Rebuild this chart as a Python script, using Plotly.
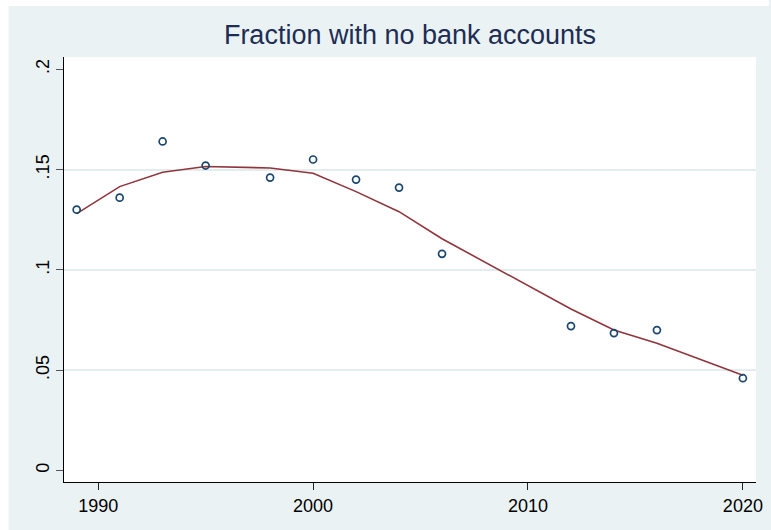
import plotly.graph_objects as go

# Survey years, observed share of households without a bank account,
# and the smoothed (lowess) trend through them
years = [1989, 1991, 1993, 1995, 1998, 2000, 2002, 2004, 2006, 2012, 2014, 2016, 2020]
share_unbanked = [0.130, 0.136, 0.164, 0.152, 0.146, 0.155, 0.145, 0.141, 0.108,
                  0.072, 0.0685, 0.070, 0.046]
lowess_fit = [0.128, 0.1415, 0.1487, 0.1515, 0.1508, 0.1482, 0.139, 0.129, 0.1155,
              0.0805, 0.070, 0.0634, 0.0475]

x_ticks = [1990, 2000, 2010, 2020]
y_ticks = [0, 0.05, 0.1, 0.15, 0.2]
y_tick_text = ["0", ".05", ".1", ".15", ".2"]
grid_levels = [0.05, 0.1, 0.15]

W, H = 771, 530
ML, MR, MT, MB = 64, 8, 57, 48
BG = "#EAF2F3"
NAVY = "#1A476F"
MAROON = "#90353B"

pw, ph = W - ML - MR, H - MT - MB


def px_x(p):
    return (p - ML) / pw


def px_y(p):
    return (H - MB - p) / ph


x_range = [1988.41, 2020.61]
y_range = [-0.00573, 0.2061]

fig = go.Figure()
# empty trace so the grid-only overlay axis gets its own subplot
fig.add_trace(go.Scatter(x=[], y=[], yaxis="y2", showlegend=False, hoverinfo="skip"))
fig.add_trace(go.Scatter(
    x=years, y=lowess_fit, mode="lines",
    line=dict(color=MAROON, width=1.6),
    hoverinfo="skip", showlegend=False,
))
fig.add_trace(go.Scatter(
    x=years, y=share_unbanked, mode="markers",
    marker=dict(symbol="circle-open", size=7, color=NAVY, line=dict(width=1.7, color=NAVY)),
    showlegend=False,
))

# thin white frame on the left and top of the graph region
shapes = [
    dict(type="rect", xref="paper", yref="paper", layer="below",
         x0=px_x(-5), x1=px_x(8), y0=px_y(H + 5), y1=px_y(-5),
         fillcolor="white", line=dict(width=0)),
    dict(type="rect", xref="paper", yref="paper", layer="below",
         x0=px_x(-5), x1=px_x(W + 5), y0=px_y(6), y1=px_y(-5),
         fillcolor="white", line=dict(width=0)),
]

fig.update_layout(
    width=W, height=H,
    margin=dict(l=ML, r=MR, t=MT, b=MB, pad=0),
    paper_bgcolor=BG,
    plot_bgcolor="white",
    font=dict(family="Liberation Sans, Arial, sans-serif", color="black"),
    title=dict(
        text="Fraction with no bank accounts",
        font=dict(size=27, color="#1E2D53", family="Liberation Sans, Arial, sans-serif"),
        x=0.5, xref="paper", xanchor="center",
        y=1 - 35 / H, yref="container", yanchor="middle",
    ),
    shapes=shapes,
    xaxis=dict(
        range=x_range, tickvals=x_ticks, ticks="outside", ticklen=7, tickwidth=1.2,
        tickcolor="#222", showline=True, linecolor="black", linewidth=1.3,
        showgrid=False, zeroline=False, tickfont=dict(size=18, color="black"),
    ),
    yaxis=dict(
        range=y_range, tickvals=y_ticks, ticktext=y_tick_text, tickangle=-90,
        ticks="outside", ticklen=7, tickwidth=1.2, tickcolor="#555",
        showline=True, linecolor="black", linewidth=1.3,
        showgrid=False, zeroline=False, tickfont=dict(size=18, color="black"),
    ),
    yaxis2=dict(
        range=y_range, overlaying="y", tickvals=grid_levels, showgrid=True,
        gridcolor="#E3EDEF", gridwidth=1.6, showticklabels=False, ticks="",
        showline=False, zeroline=False,
    ),
)

fig.write_html("out.html")
